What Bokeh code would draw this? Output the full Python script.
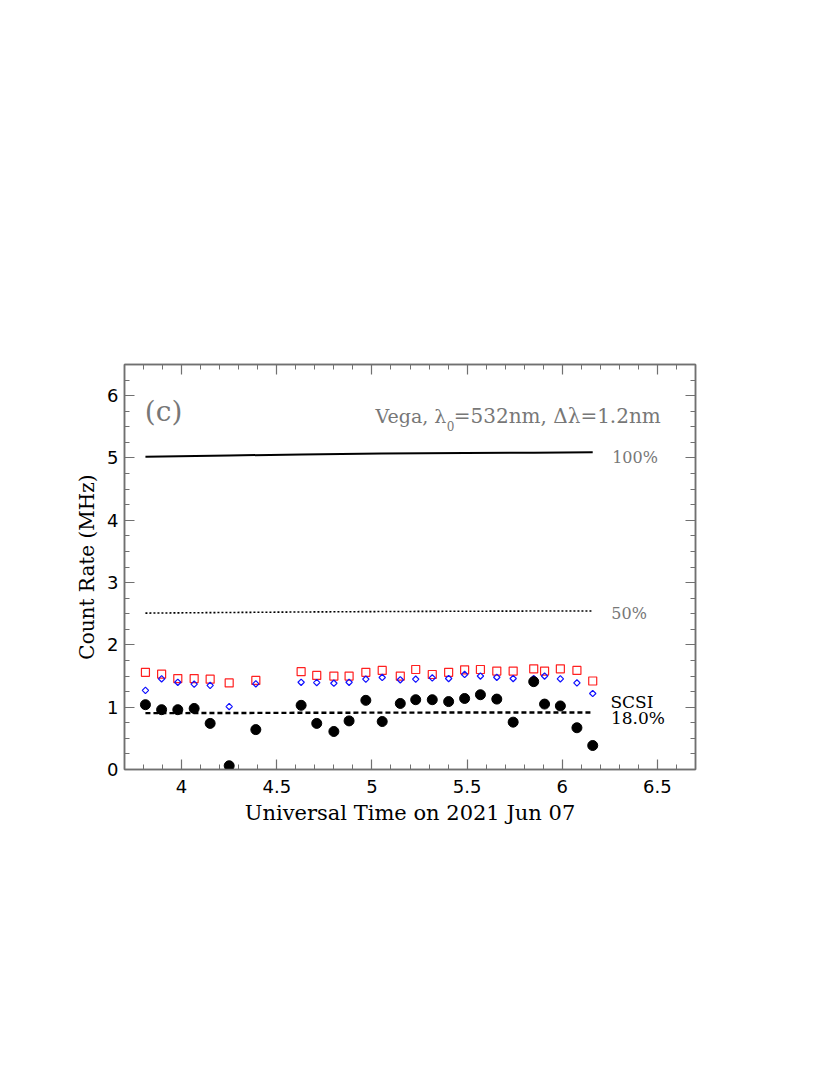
import numpy as np
from bokeh.plotting import figure
from bokeh.models import (Range1d, LinearAxis, FixedTicker, CustomJSTickFormatter, Label)
from bokeh.embed import file_html
from bokeh.resources import INLINE

# ---- data ----
ut = [3.81, 3.895, 3.98, 4.066, 4.15, 4.25, 4.39, 4.628, 4.71, 4.80, 4.88, 4.968, 5.054,
      5.149, 5.23, 5.317, 5.403, 5.487, 5.57, 5.656, 5.742, 5.85, 5.907, 5.99, 6.077, 6.16]
rate_black = [1.04, 0.96, 0.96, 0.98, 0.74, 0.06, 0.64, 1.03, 0.74, 0.61, 0.78, 1.11, 0.77,
              1.06, 1.12, 1.12, 1.09, 1.14, 1.20, 1.13, 0.76, 1.41, 1.05, 1.02, 0.67, 0.385]
rate_red = [1.56, 1.53, 1.46, 1.46, 1.45, 1.39, 1.43, 1.57, 1.51, 1.50, 1.50, 1.56, 1.59,
            1.50, 1.605, 1.525, 1.56, 1.60, 1.605, 1.58, 1.58, 1.615, 1.58, 1.615, 1.59, 1.42]
rate_blue = [1.27, 1.455, 1.40, 1.37, 1.35, 1.01, 1.375, 1.40, 1.395, 1.385, 1.40, 1.45, 1.477,
             1.44, 1.45, 1.47, 1.46, 1.525, 1.50, 1.48, 1.46, 1.46, 1.50, 1.455, 1.39, 1.22]

line_ut = [3.81, 4.25, 4.63, 5.05, 5.49, 5.85, 6.16]
level_100 = [5.02, 5.04, 5.055, 5.07, 5.08, 5.085, 5.09]
level_50 = [2.51, 2.52, 2.528, 2.535, 2.54, 2.543, 2.545]
level_scsi = [0.904, 0.907, 0.91, 0.913, 0.914, 0.915, 0.916]

x_ticks = [4, 4.5, 5, 5.5, 6, 6.5]
y_ticks = [0, 1, 2, 3, 4, 5, 6]
x_minor = [round(3.7 + 0.1 * i, 2) for i in range(31)]
y_minor = [0.25 * i for i in range(27)]

AX = "#707070"

p = figure(output_backend="svg", toolbar_location=None,
           frame_width=571, frame_height=405,
           x_range=Range1d(3.7, 6.7), y_range=Range1d(0, 6.5),
           x_axis_location=None, y_axis_location=None)
p.min_border_left = 124
p.min_border_top = 364
p.min_border_right = 110
p.min_border_bottom = 280
p.grid.visible = False
p.outline_line_color = AX
p.outline_line_width = 1.5
p.background_fill_color = "white"
p.border_fill_color = "white"

fmt = CustomJSTickFormatter(code="return String(Math.round(tick*10)/10);")


def style_axis(ax, labels=True):
    ax.axis_line_color = AX
    ax.axis_line_width = 1.5
    ax.major_tick_line_color = AX
    ax.minor_tick_line_color = AX
    ax.major_tick_in = 10
    ax.major_tick_out = 0
    ax.minor_tick_in = 5
    ax.minor_tick_out = 0
    ax.major_tick_line_width = 1.2
    ax.minor_tick_line_width = 1.0
    if labels:
        ax.major_label_text_font = "DejaVu Sans"
        ax.major_label_text_font_size = "18px"
        ax.major_label_text_color = "black"
        ax.axis_label_text_font = "DejaVu Serif"
        ax.axis_label_text_font_size = "21px"
        ax.axis_label_text_font_style = "normal"
        ax.axis_label_text_color = "black"
    else:
        ax.major_label_text_font_size = "0px"
        ax.major_label_text_alpha = 0


xb = LinearAxis(ticker=FixedTicker(ticks=x_ticks, minor_ticks=x_minor), formatter=fmt,
                axis_label="Universal Time on 2021 Jun 07")
style_axis(xb)
xb.major_label_standoff = 10
xb.axis_label_standoff = 5
p.add_layout(xb, "below")

xt = LinearAxis(ticker=FixedTicker(ticks=x_ticks, minor_ticks=x_minor))
style_axis(xt, labels=False)
p.add_layout(xt, "above")

yl = LinearAxis(ticker=FixedTicker(ticks=y_ticks, minor_ticks=y_minor), formatter=fmt,
                axis_label="Count Rate (MHz)")
style_axis(yl)
yl.axis_label_text_font_size = "20px"
yl.major_label_standoff = 6
yl.axis_label_standoff = 5
p.add_layout(yl, "left")

yr = LinearAxis(ticker=FixedTicker(ticks=y_ticks, minor_ticks=y_minor))
style_axis(yr, labels=False)
p.add_layout(yr, "right")

# reference levels
p.line(line_ut, level_100, line_color="black", line_width=2)
p.line(line_ut, level_50, line_color="black", line_width=1.6, line_dash="2 2")
p.line(line_ut, level_scsi, line_color="black", line_width=2.4, line_dash="5 3")

# data
p.scatter(ut, rate_red, marker="square", size=8, fill_color=None, line_color="#ff2020", line_width=1.2)
p.scatter(ut, rate_blue, marker="square", size=4.5, angle=np.pi / 4, fill_color=None,
          line_color="#1010ff", line_width=1.2)
p.scatter(ut, rate_black, marker="circle", size=10, fill_color="black", line_color="black")

GRAY = "#777777"
SERIF = "DejaVu Serif"
p.add_layout(Label(x=3.807, y=5.75, text="(c)", text_font=SERIF, text_font_size="28px",
                   text_color=GRAY, text_baseline="alphabetic"))
p.add_layout(Label(x=5.391, y=5.671, text="Vega, λ", text_font=SERIF, text_font_size="19px",
                   text_color=GRAY, text_align="right", text_baseline="alphabetic"))
p.add_layout(Label(x=5.393, y=5.51, text="0", text_font=SERIF, text_font_size="12px",
                   text_color=GRAY, text_align="left", text_baseline="alphabetic"))
p.add_layout(Label(x=5.43, y=5.671, text="=532nm, Δλ=1.2nm", text_font=SERIF, text_font_size="20px",
                   text_color=GRAY, text_align="left", text_baseline="alphabetic"))
p.add_layout(Label(x=6.262, y=5.0, text="100%", text_font=SERIF, text_font_size="16px",
                   text_color=GRAY, text_baseline="alphabetic"))
p.add_layout(Label(x=6.258, y=2.50, text="50%", text_font=SERIF, text_font_size="16px",
                   text_color=GRAY, text_baseline="alphabetic"))
p.add_layout(Label(x=6.253, y=1.09, text="SCSI", text_font=SERIF, text_font_size="17px",
                   text_color="black", text_baseline="alphabetic"))
p.add_layout(Label(x=6.256, y=0.82, text="18.0%", text_font=SERIF, text_font_size="17px",
                   text_color="black", text_baseline="alphabetic"))

open("out.html", "w").write(file_html(p, INLINE))
